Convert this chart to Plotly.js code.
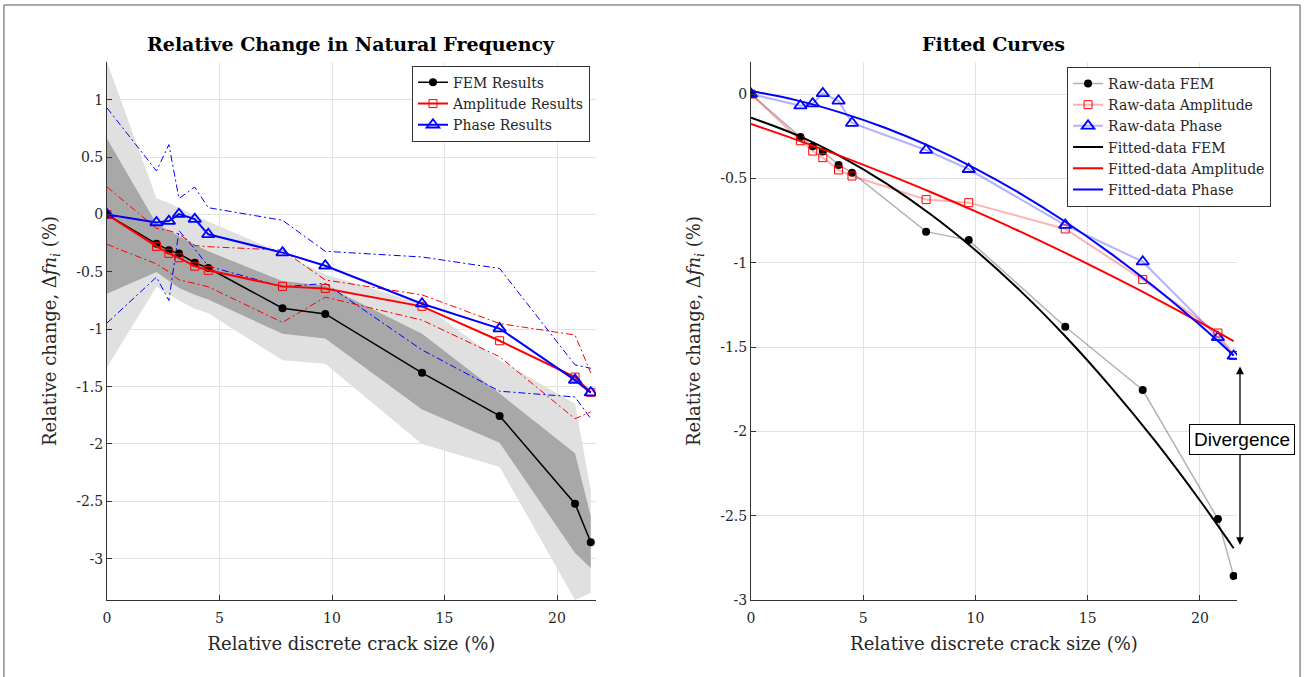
<!DOCTYPE html>
<html>
<head>
<meta charset="utf-8">
<script src="https://cdn.plot.ly/plotly-3.0.1.min.js"></script>
<style>
html,body{margin:0;padding:0;background:#fff;}
#chart{width:1305px;height:677px;}
</style>
</head>
<body>
<div id="chart"></div>
<script>
// ---- data ----
var crackSize = [0, 2.2, 2.75, 3.2, 3.9, 4.5, 7.8, 9.7, 14, 17.45, 20.8, 21.5];
var femValues = [0, -0.255, -0.31, -0.34, -0.42, -0.466, -0.816, -0.866, -1.38, -1.755, -2.52, -2.857];
var amplitudeValues = [0, -0.277, -0.338, -0.377, -0.45, -0.486, -0.626, -0.644, -0.80, -1.10, -1.417, -1.55];
var phaseValues = [0, -0.069, -0.057, 0.004, -0.04, -0.172, -0.332, -0.446, -0.777, -0.994, -1.443, -1.553];

// FEM uncertainty bands
var femOuterUpper = [1.33, 0.14, 0.10, 0.06, 0.0, -0.06, -0.34, -0.52, -0.78, -1.27, -1.65, -2.40];
var femOuterLower = [-1.33, -0.63, -0.70, -0.75, -0.82, -0.86, -1.27, -1.30, -2.0, -2.2, -3.36, -3.30];
var femInnerUpper = [0.66, -0.08, -0.14, -0.19, -0.26, -0.32, -0.58, -0.62, -1.04, -1.56, -2.08, -2.63];
var femInnerLower = [-0.69, -0.50, -0.58, -0.64, -0.70, -0.74, -1.04, -1.08, -1.70, -1.99, -2.95, -3.08];

// Amplitude / phase bounds (dash-dot)
var ampUpper = [0.24, -0.12, -0.14, -0.17, -0.27, -0.28, -0.31, -0.57, -0.70, -0.95, -1.05, -1.38];
var ampLower = [-0.26, -0.43, -0.50, -0.57, -0.60, -0.63, -0.94, -0.72, -0.92, -1.24, -1.78, -1.72];
var phaseUpper = [0.93, 0.38, 0.61, 0.14, 0.24, 0.06, -0.05, -0.32, -0.37, -0.47, -1.31, -1.34];
var phaseLower = [-0.945, -0.545, -0.75, -0.14, -0.30, -0.45, -0.63, -0.60, -1.18, -1.54, -1.59, -1.78];

// Fitted curves
var fitX = [0, 2, 4, 6, 8, 10, 12, 14, 16, 18, 20, 21.5];
var fitFem = [-0.14, -0.241, -0.371, -0.528, -0.713, -0.926, -1.167, -1.436, -1.733, -2.057, -2.41, -2.693];
var fitAmplitude = [-0.178, -0.270, -0.368, -0.472, -0.581, -0.696, -0.816, -0.942, -1.074, -1.211, -1.354, -1.465];
var fitPhase = [0.018, -0.036, -0.110, -0.201, -0.312, -0.442, -0.590, -0.757, -0.943, -1.147, -1.370, -1.550];

var xTicks = [0, 5, 10, 15, 20];
var xTickText = ['0', '5', '10', '15', '20'];
var yTicksLeft = [-3, -2.5, -2, -1.5, -1, -0.5, 0, 0.5, 1];
var yTickTextLeft = ['-3', '-2.5', '-2', '-1.5', '-1', '-0.5', '0', '0.5', '1'];
var yTicksRight = [-3, -2.5, -2, -1.5, -1, -0.5, 0];
var yTickTextRight = ['-3', '-2.5', '-2', '-1.5', '-1', '-0.5', '0'];

var leftTitle = 'Relative Change in Natural Frequency';
var rightTitle = 'Fitted Curves';
var xTitle = 'Relative discrete crack size (%)';
var yTitle = 'Relative change, &#916;<i>fn<sub>i</sub></i> (%)';

// ---- build ----
var serif = '"DejaVu Serif", "Liberation Serif", serif';
function band(x, up, lo) {
  return {x: x.concat(x.slice().reverse()), y: up.concat(lo.slice().reverse())};
}
var outer = band(crackSize, femOuterUpper, femOuterLower);
var inner = band(crackSize, femInnerUpper, femInnerLower);
var dashDot = '7px,3px,2px,3px';

var traces = [
  {x: outer.x, y: outer.y, fill: 'toself', fillcolor: '#e0e0e0', line: {width: 0}, mode: 'lines', showlegend: false, hoverinfo: 'skip', xaxis: 'x', yaxis: 'y'},
  {x: inner.x, y: inner.y, fill: 'toself', fillcolor: '#a8a8a8', line: {width: 0}, mode: 'lines', showlegend: false, hoverinfo: 'skip', xaxis: 'x', yaxis: 'y'},
  {x: crackSize, y: ampUpper, mode: 'lines', line: {color: '#ff0000', width: 1, dash: dashDot}, showlegend: false, xaxis: 'x', yaxis: 'y'},
  {x: crackSize, y: ampLower, mode: 'lines', line: {color: '#ff0000', width: 1, dash: dashDot}, showlegend: false, xaxis: 'x', yaxis: 'y'},
  {x: crackSize, y: phaseUpper, mode: 'lines', line: {color: '#0000ff', width: 1, dash: dashDot}, showlegend: false, xaxis: 'x', yaxis: 'y'},
  {x: crackSize, y: phaseLower, mode: 'lines', line: {color: '#0000ff', width: 1, dash: dashDot}, showlegend: false, xaxis: 'x', yaxis: 'y'},
  {x: crackSize, y: femValues, name: 'FEM Results', mode: 'lines+markers', line: {color: '#000', width: 1.5}, marker: {symbol: 'circle', size: 8, color: '#000'}, xaxis: 'x', yaxis: 'y', legend: 'legend'},
  {x: crackSize, y: amplitudeValues, name: 'Amplitude Results', mode: 'lines+markers', line: {color: '#ff0000', width: 2}, marker: {symbol: 'square-open', size: 8, color: '#ff0000', line: {width: 1}}, xaxis: 'x', yaxis: 'y', legend: 'legend'},
  {x: crackSize, y: phaseValues, name: 'Phase Results', mode: 'lines+markers', line: {color: '#0000ff', width: 2}, marker: {symbol: 'triangle-up-open', size: 11, color: '#0000ff', line: {width: 1.8}}, xaxis: 'x', yaxis: 'y', legend: 'legend'},

  {x: crackSize, y: femValues, name: 'Raw-data FEM', mode: 'lines+markers', line: {color: 'rgba(0,0,0,0.3)', width: 1.5}, marker: {symbol: 'circle', size: 8, color: '#000'}, xaxis: 'x2', yaxis: 'y2', legend: 'legend2'},
  {x: crackSize, y: amplitudeValues, name: 'Raw-data Amplitude', mode: 'lines+markers', line: {color: 'rgba(255,0,0,0.3)', width: 2}, marker: {symbol: 'square-open', size: 8, color: '#ff0000', line: {width: 1}}, xaxis: 'x2', yaxis: 'y2', legend: 'legend2'},
  {x: crackSize, y: phaseValues, name: 'Raw-data Phase', mode: 'lines+markers', line: {color: 'rgba(0,0,255,0.3)', width: 2}, marker: {symbol: 'triangle-up-open', size: 11, color: '#0000ff', line: {width: 1.8}}, xaxis: 'x2', yaxis: 'y2', legend: 'legend2'},
  {x: fitX, y: fitFem, name: 'Fitted-data FEM', mode: 'lines', line: {color: '#000', width: 2, shape: 'spline'}, xaxis: 'x2', yaxis: 'y2', legend: 'legend2'},
  {x: fitX, y: fitAmplitude, name: 'Fitted-data Amplitude', mode: 'lines', line: {color: '#ff0000', width: 2, shape: 'spline'}, xaxis: 'x2', yaxis: 'y2', legend: 'legend2'},
  {x: fitX, y: fitPhase, name: 'Fitted-data Phase', mode: 'lines', line: {color: '#0000ff', width: 2, shape: 'spline'}, xaxis: 'x2', yaxis: 'y2', legend: 'legend2'}
];

var axisCommon = {
  showline: true, linecolor: '#333', linewidth: 1, mirror: false,
  ticks: 'inside', ticklen: 5, tickcolor: '#333',
  showgrid: true, gridcolor: '#e3e3e3', gridwidth: 1, zeroline: false,
  tickfont: {family: serif, size: 14, color: '#262626'},
  automargin: false, fixedrange: true
};
function ax(extra) { return Object.assign({}, axisCommon, extra); }

var titleFont = {family: serif, size: 18, color: '#262626'};
var layout = {
  width: 1305, height: 677,
  margin: {l: 107, r: 68, t: 62, b: 77},
  paper_bgcolor: '#fff', plot_bgcolor: '#fff',
  font: {family: serif, color: '#262626'},
  xaxis: ax({domain: [0, 0.4327], range: [0, 21.73], tickvals: xTicks, ticktext: xTickText, anchor: 'y', ticklabelstandoff: 5,
    title: {text: xTitle, font: titleFont, standoff: 12}}),
  yaxis: ax({domain: [0, 1], range: [-3.36, 1.33], tickvals: yTicksLeft, ticktext: yTickTextLeft, anchor: 'x',
    title: {text: yTitle, font: titleFont, standoff: 14}}),
  xaxis2: ax({domain: [0.5699, 1], range: [0, 21.65], tickvals: xTicks, ticktext: xTickText, anchor: 'y2', ticklabelstandoff: 5,
    title: {text: xTitle, font: titleFont, standoff: 12}}),
  yaxis2: ax({domain: [0, 1], range: [-3, 0.19], tickvals: yTicksRight, ticktext: yTickTextRight, anchor: 'x2',
    title: {text: yTitle, font: titleFont, standoff: 14}}),
  legend: {x: 0.2699, y: 0.993, xanchor: 'left', yanchor: 'top', bgcolor: '#fff', bordercolor: '#333', borderwidth: 1,
    font: {family: serif, size: 14, color: '#262626'}, itemwidth: 30, tracegroupgap: 0},
  legend2: {x: 0.8496, y: 0.991, xanchor: 'left', yanchor: 'top', bgcolor: '#fff', bordercolor: '#333', borderwidth: 1,
    font: {family: serif, size: 14, color: '#262626'}, itemwidth: 30, tracegroupgap: 0},
  annotations: [
    {text: '<b>' + leftTitle + '</b>', xref: 'paper', yref: 'paper', x: 0.4327 / 2, y: 1.0335, xanchor: 'center', yanchor: 'middle', showarrow: false, font: {family: serif, size: 19, color: '#000'}},
    {text: '<b>' + rightTitle + '</b>', xref: 'paper', yref: 'paper', x: (0.5699 + 1) / 2, y: 1.0335, xanchor: 'center', yanchor: 'middle', showarrow: false, font: {family: serif, size: 19, color: '#000'}},
    {text: '', xref: 'paper', yref: 'paper', x: 1.00265, y: 0.1022, ax: 1.00265, ay: 0.4368, axref: 'paper', ayref: 'paper', showarrow: true, arrowhead: 2, startarrowhead: 2, arrowside: 'end+start', arrowsize: 1.2, arrowwidth: 1.3, arrowcolor: '#000'},
    {text: 'Divergence', xref: 'paper', yref: 'paper', x: 1.0044, y: 0.2974, xanchor: 'center', yanchor: 'middle', showarrow: false, bgcolor: '#fff', bordercolor: '#000', borderwidth: 1, borderpad: 4, font: {family: '"Liberation Sans", Arial, sans-serif', size: 19, color: '#000'}}
  ],
  shapes: [
    {type: 'rect', xref: 'paper', yref: 'paper', x0: -0.0912, x1: 1.0558, y0: -0.15, y1: 1.106, line: {color: '#555', width: 1}, fillcolor: 'rgba(0,0,0,0)', layer: 'below'}
  ]
};

Plotly.newPlot('chart', traces, layout, {staticPlot: true, displayModeBar: false});
</script>
</body>
</html>
